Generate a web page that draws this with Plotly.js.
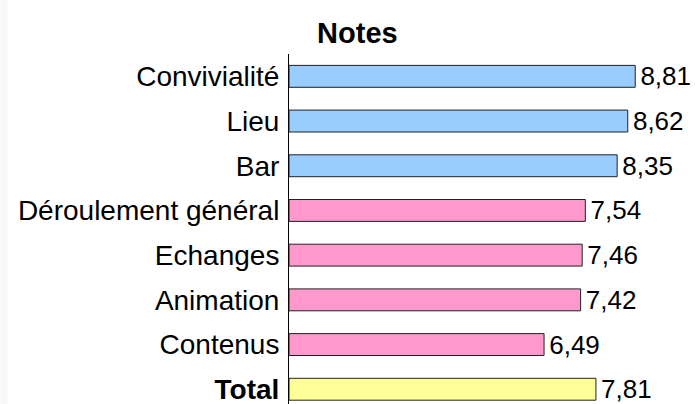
<!DOCTYPE html>
<html><head><meta charset="utf-8">
<script src="https://cdn.plot.ly/plotly-3.0.1.min.js"></script>
<style>html,body{margin:0;padding:0;background:#fff}#c{width:698px;height:404px}</style>
</head><body><div id="c"></div>
<script>
const categories = ["Convivialité","Lieu","Bar","Déroulement général","Echanges","Animation","Contenus","Total"];
const tickLabels = ["Convivialité","Lieu","Bar","Déroulement général","Echanges","Animation","Contenus","<b>Total</b>"];
const values = [8.81,8.62,8.35,7.54,7.46,7.42,6.49,7.81];
const groups = ["ambiance","ambiance","ambiance","programme","programme","programme","programme","total"];
const groupColors = {ambiance:"#99ccff", programme:"#ff99cc", total:"#ffff99"};

const labels = values.map(v => "\u200A" + v.toFixed(2).replace(".", ","));
const FONT = "Liberation Sans, Arial, sans-serif";
const trace = {
  type: "bar", orientation: "h",
  x: values, y: categories,
  marker: {color: groups.map(g => groupColors[g]), line: {color: "#222", width: 1}},
  text: labels, textposition: "outside", cliponaxis: false, constraintext: "none",
  textfont: {family: FONT, size: 26, color: "#000"},
  hoverinfo: "none"
};
const L = 289, W = 393.5;
const layout = {
  width: 698, height: 404,
  margin: {l: L, r: 698 - L - W, t: 54, b: 0, pad: 0},
  paper_bgcolor: "#fff", plot_bgcolor: "#fff",
  font: {family: FONT, size: 28, color: "#000"},
  title: {text: "<b>Notes</b>", x: 0.512, xanchor: "center", y: 0.918, yanchor: "middle",
          font: {family: FONT, size: 29, color: "#000"}},
  bargap: 0.51,
  showlegend: false,
  xaxis: {range: [0, 10], visible: false, fixedrange: true},
  yaxis: {type: "category", categoryorder: "array", categoryarray: categories,
          range: [7.33, -0.5], autorange: false,
          tickmode: "array", tickvals: categories, ticktext: tickLabels,
          showline: true, linecolor: "#000", linewidth: 1, ticks: "", showgrid: false,
          zeroline: false, ticklabelstandoff: 3,
          tickfont: {family: FONT, size: 28, color: "#000"}},
  shapes: [{type: "rect", xref: "paper", yref: "paper", layer: "below",
            x0: -L / W, x1: (7 - L) / W, y0: -0.1, y1: 1.2,
            fillcolor: "#f7f7f7", line: {width: 0}}]
};
Plotly.newPlot("c", [trace], layout, {staticPlot: true, displayModeBar: false});
</script></body></html>
